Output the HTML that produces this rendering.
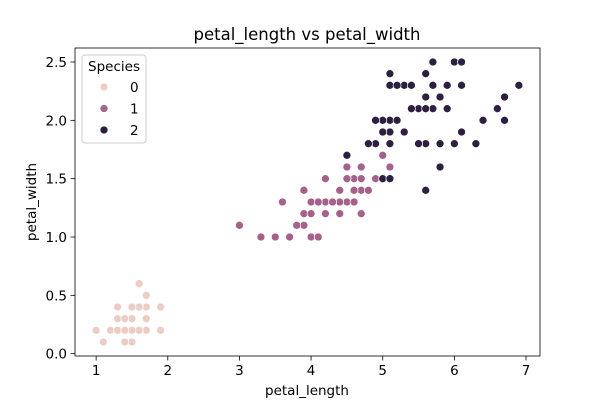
<!DOCTYPE html>
<html><head><meta charset="utf-8"><style>
body{margin:0;background:#fff}
svg{display:block;font-family:"DejaVu Sans","Liberation Sans",sans-serif}
</style></head><body>
<svg id="chart" width="600" height="400">
<rect width="600" height="400" fill="#fff"/>
<g id="marks"></g>
<rect x="75" y="48" width="465" height="308" fill="none" stroke="#000" stroke-width="0.8"/>
<g id="xt"></g>
<g id="yt"></g>
<text x="307" y="40" text-anchor="middle" font-size="16.5">petal_length vs petal_width</text>
<text x="307" y="395" text-anchor="middle" font-size="13.5">petal_length</text>
<text transform="translate(36,202) rotate(-90)" text-anchor="middle" font-size="13.5">petal_width</text>
<g>
<rect x="82" y="55" width="64" height="88" rx="3" fill="#fff" fill-opacity="0.8" stroke="#ccc"/>
<text x="114" y="71" text-anchor="middle" font-size="13.5">Species</text>
<g id="leg"></g>
</g>
</svg>
<script>
const species=[0,1,2];
const colors=["#ebcdc5","#a6618a","#2d1f3f"];
const xTicks=[1,2,3,4,5,6,7];
const yTicks=[0.0,0.5,1.0,1.5,2.0,2.5];
const petalLength=[1.4,1.4,1.3,1.5,1.4,1.7,1.4,1.5,1.4,1.5,1.5,1.6,1.4,1.1,1.2,1.5,1.3,1.4,1.7,1.5,1.7,1.5,1.0,1.7,1.9,1.6,1.6,1.5,1.4,1.6,1.6,1.5,1.5,1.4,1.5,1.2,1.3,1.4,1.3,1.5,1.3,1.3,1.3,1.6,1.9,1.4,1.6,1.4,1.5,1.4,
4.7,4.5,4.9,4.0,4.6,4.5,4.7,3.3,4.6,3.9,3.5,4.2,4.0,4.7,3.6,4.4,4.5,4.1,4.5,3.9,4.8,4.0,4.9,4.7,4.3,4.4,4.8,5.0,4.5,3.5,3.8,3.7,3.9,5.1,4.5,4.5,4.7,4.4,4.1,4.0,4.4,4.6,4.0,3.3,4.2,4.2,4.2,4.3,3.0,4.1,
6.0,5.1,5.9,5.6,5.8,6.6,4.5,6.3,5.8,6.1,5.1,5.3,5.5,5.0,5.1,5.3,5.5,6.7,6.9,5.0,5.7,4.9,6.7,4.9,5.7,6.0,4.8,4.9,5.6,5.8,6.1,6.4,5.6,5.1,5.6,6.1,5.6,5.5,4.8,5.4,5.6,5.1,5.1,5.9,5.7,5.2,5.0,5.2,5.4,5.1];
const petalWidth=[.2,.2,.2,.2,.2,.4,.3,.2,.2,.1,.2,.2,.1,.1,.2,.4,.4,.3,.3,.3,.2,.4,.2,.5,.2,.2,.4,.2,.2,.2,.2,.4,.1,.2,.2,.2,.2,.1,.2,.2,.3,.3,.2,.6,.4,.3,.2,.2,.2,.2,
1.4,1.5,1.5,1.3,1.5,1.3,1.6,1.0,1.3,1.4,1.0,1.5,1.0,1.4,1.3,1.4,1.5,1.0,1.5,1.1,1.8,1.3,1.5,1.2,1.3,1.4,1.4,1.7,1.5,1.0,1.1,1.0,1.2,1.6,1.5,1.6,1.5,1.3,1.3,1.3,1.2,1.4,1.2,1.0,1.3,1.2,1.3,1.3,1.1,1.3,
2.5,1.9,2.1,1.8,2.2,2.1,1.7,1.8,1.8,2.5,2.0,1.9,2.1,2.0,2.4,2.3,1.8,2.2,2.3,1.5,2.3,2.0,2.0,1.8,2.1,1.8,1.8,1.8,2.1,1.6,1.9,2.0,2.2,1.5,1.4,2.3,2.4,1.8,1.8,2.1,2.4,2.3,1.9,2.3,2.5,2.3,1.9,2.0,2.3,1.8];
const speciesOf=i=>i<50?0:(i<100?1:2);
const L=75,R=540,T=48,B=356,x0=0.705,x1=7.195,y0=-0.02,y1=2.62;
const sx=v=>L+(v-x0)/(x1-x0)*(R-L);
const sy=v=>B-(v-y0)/(y1-y0)*(B-T);
const NS="http://www.w3.org/2000/svg";
function mk(t,a,p){const e=document.createElementNS(NS,t);for(const k in a)e.setAttribute(k,a[k]);p.appendChild(e);return e;}
const marks=document.getElementById('marks');
petalLength.forEach((v,i)=>{
 const c=mk('circle',{cx:sx(v),cy:sy(petalWidth[i]),r:4,fill:colors[speciesOf(i)],stroke:'#fff','stroke-width':0.7},marks);
 
 
});
const xt=document.getElementById('xt');
xTicks.forEach(v=>{
 const l=mk('line',{x1:sx(v),x2:sx(v),y1:B,y2:B+4.5,stroke:'#000','stroke-width':0.8},xt);
 
 
 const t=mk('text',{x:sx(v),y:B+19,'text-anchor':'middle','font-size':13.5},xt);
 t.textContent=v;
 
 
});
const yt=document.getElementById('yt');
yTicks.forEach(v=>{
 const l=mk('line',{x1:L-4.5,x2:L,y1:sy(v),y2:sy(v),stroke:'#000','stroke-width':0.8},yt);
 
 
 const t=mk('text',{x:L-8,y:sy(v)+5,'text-anchor':'end','font-size':13.5},yt);
 t.textContent=v.toFixed(1);
 
 
});
const leg=document.getElementById('leg');
species.forEach((s,i)=>{
 const y=87+i*21.5;
 const c=mk('circle',{cx:104,cy:y,r:4,fill:colors[i],stroke:'#fff','stroke-width':0.7},leg);
 
 
 const t=mk('text',{x:130,y:y+5,'font-size':13.5},leg);
 t.textContent=s;
 
 
});
</script>
</body></html>
